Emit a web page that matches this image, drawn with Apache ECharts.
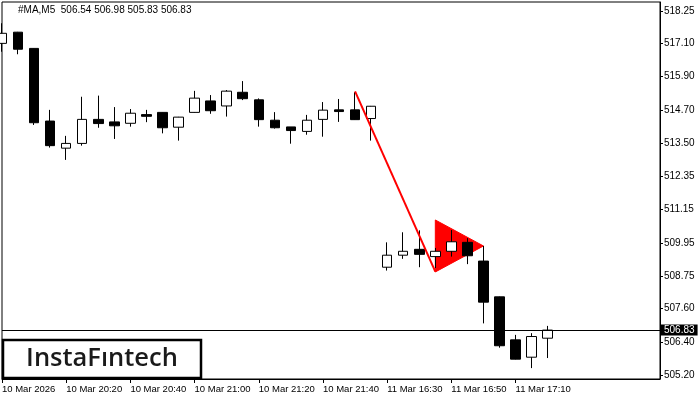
<!DOCTYPE html>
<html><head><meta charset="utf-8">
<script src="https://cdn.jsdelivr.net/npm/echarts@6/dist/echarts.min.js"></script>
<style>html,body{margin:0;padding:0;background:#fff}#c{width:700px;height:400px}</style>
</head><body><div id="c"></div>
<script>
// ---- data ----
const categories = [
  '10 Mar 20:00','10 Mar 20:05','10 Mar 20:10','10 Mar 20:15','10 Mar 20:20','10 Mar 20:25','10 Mar 20:30','10 Mar 20:35',
  '10 Mar 20:40','10 Mar 20:45','10 Mar 20:50','10 Mar 20:55','10 Mar 21:00','10 Mar 21:05','10 Mar 21:10','10 Mar 21:15',
  '10 Mar 21:20','10 Mar 21:25','10 Mar 21:30','10 Mar 21:35','10 Mar 21:40','10 Mar 21:45','10 Mar 21:50','10 Mar 21:55',
  '11 Mar 16:30','11 Mar 16:35','11 Mar 16:40','11 Mar 16:45','11 Mar 16:50','11 Mar 16:55','11 Mar 17:00','11 Mar 17:05',
  '11 Mar 17:10','11 Mar 17:15','11 Mar 17:20','11 Mar 17:25','11 Mar 17:30','11 Mar 17:35','11 Mar 17:40','11 Mar 17:45',
  '11 Mar 17:50','11 Mar 17:55'
];
const opens  = [517.09,517.49,516.91,514.31,513.34,513.51,514.37,514.28,514.23,514.54,514.62,514.09,514.62,515.03,514.85,515.34,515.07,514.34,514.10,513.94,514.37,514.71,514.71,514.40,509.08,509.51,509.72,509.46,509.65,509.97,509.30,508.02,506.48,505.86,506.54];
const closes = [517.45,516.88,514.25,513.43,513.51,514.37,514.22,514.14,514.59,514.48,514.07,514.45,515.13,514.68,515.38,515.11,514.36,514.07,513.97,514.34,514.70,514.65,514.36,514.84,509.51,509.65,509.54,509.65,509.99,509.49,507.83,506.27,505.79,506.60,506.83];
const lows   = [516.79,516.70,514.17,513.36,512.92,513.43,514.07,513.67,514.11,514.27,513.87,513.61,514.61,514.57,514.47,515.06,514.11,514.04,513.50,513.82,513.75,514.28,514.35,513.61,508.96,509.38,509.08,509.05,509.46,509.19,507.07,506.20,505.78,505.47,505.83];
const highs  = [517.81,517.50,516.92,514.71,513.78,515.18,515.22,514.81,514.74,514.71,514.63,514.46,515.39,515.24,515.42,515.74,515.12,514.63,514.10,514.53,514.99,515.10,515.34,514.85,509.97,510.33,510.40,509.77,510.41,510.12,509.84,508.03,506.66,506.72,506.98];
const yTickLabels = ['505.20','506.40','507.60','508.75','509.95','511.15','512.35','513.50','514.70','515.90','517.10','518.25'];
const xTickLabels = ['10 Mar 2026','10 Mar 20:20','10 Mar 20:40','10 Mar 21:00','10 Mar 21:20','10 Mar 21:40','11 Mar 16:30','11 Mar 16:50','11 Mar 17:10'];
const currentPrice = 506.83;
const headerText = '#MA,M5  506.54 506.98 505.83 506.83';
const poleIdx = [22, 27];
const poleVal = [515.37, 508.92];
const flagIdx = [27, 27, 30];
const flagVal = [510.77, 508.91, 509.84];
const logoText = 'InstaF\u0131ntech';

// ---- chart ----
const yTickValues = yTickLabels.map(parseFloat);
const candleData = opens.map((o, i) => [o, closes[i], lows[i], highs[i]]);
const showX = (i) => i % 4 === 0 && (i / 4) < xTickLabels.length;
const chart = echarts.init(document.getElementById('c'), null, {renderer: 'canvas'});
chart.setOption({
  animation: false,
  backgroundColor: '#fff',
  grid: {left: 2, right: 40, top: 2, bottom: 21, show: true, borderColor: '#000', borderWidth: 1, backgroundColor: '#fff', outerBoundsMode: 'none'},
  xAxis: {
    type: 'category', data: categories, boundaryGap: false,
    axisLine: {show: true, lineStyle: {color: '#000', width: 1}},
    axisTick: {show: true, length: 4, interval: (i) => showX(i), lineStyle: {color: '#000'}},
    axisLabel: {interval: (i) => showX(i), formatter: (v, i) => showX(i) ? xTickLabels[i / 4] : '', align: 'left', margin: 5,
      color: '#000', fontSize: 9.5, fontFamily: 'Liberation Sans'},
    splitLine: {show: false}
  },
  yAxis: {
    type: 'value', position: 'right', min: 505.08, max: 518.57,
    axisLine: {show: true, lineStyle: {color: '#000', width: 1}},
    axisTick: {show: true, length: 3, customValues: yTickValues, lineStyle: {color: '#000'}},
    axisLabel: {customValues: yTickValues, formatter: (v) => v.toFixed(2), margin: 4, color: '#000', fontSize: 10, fontFamily: 'Liberation Sans'},
    splitLine: {show: false}
  },
  series: [
    {
      type: 'custom', z: 1, clip: true, silent: true,
      data: [0],
      renderItem: (params, api) => {
        const pts = flagIdx.map((k, i) => api.coord([k, flagVal[i]]));
        return {type: 'polygon', shape: {points: pts}, style: {fill: '#ff0000', stroke: '#ff0000', lineWidth: 1}};
      }
    },
    {
      type: 'candlestick', z: 2, barWidth: 10, clip: true,
      data: candleData,
      itemStyle: {color: '#ffffff', color0: '#000000', borderColor: '#000000', borderColor0: '#000000', borderWidth: 1},
      markLine: {
        silent: true, symbol: ['none', 'none'],
        lineStyle: {color: '#000', width: 1, type: 'solid'},
        label: {show: true, position: 'end', formatter: currentPrice.toFixed(2), backgroundColor: '#000', color: '#fff',
          padding: [1, 3, 0, 3], distance: 1, fontSize: 10, fontFamily: 'Liberation Sans'},
        data: [{yAxis: currentPrice}]
      }
    },
    {
      type: 'line', z: 3, silent: true, symbol: 'none',
      data: poleIdx.map((k, i) => [k, poleVal[i]]),
      lineStyle: {color: '#ff0000', width: 2}
    }
  ],
  graphic: [
    {type: 'text', left: 18, top: 5, z: 100, style: {text: headerText, font: '10px "Liberation Sans"', fill: '#000'}},
    {type: 'rect', z: 100, shape: {x: 3, y: 340, width: 198, height: 38}, style: {fill: '#fff', stroke: '#000', lineWidth: 2.5}},
    {type: 'text', z: 101, x: 102, y: 359, style: {text: logoText, font: '600 25.5px "Open Sans"', fill: '#1a1a1a', align: 'center', verticalAlign: 'middle'}}
  ]
});
</script>
</body></html>
